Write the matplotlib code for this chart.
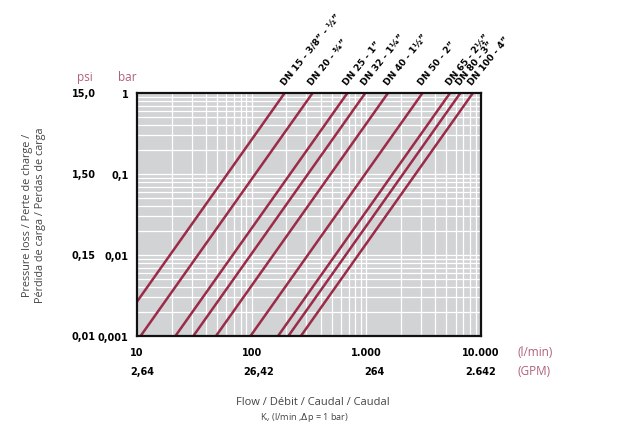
import numpy as np
import matplotlib
matplotlib.use("Agg")
import matplotlib.pyplot as plt
from matplotlib.transforms import blended_transform_factory

# ---- data ----
series_labels = ["DN 15 - 3/8\u201d - \u00bd\u201d", "DN 20 - \u00be\u201d", "DN 25 - 1\u201d",
                 "DN 32 - 1\u00bc\u201d", "DN 40 - 1\u00bd\u201d", "DN 50 - 2\u201d",
                 "DN 65 - 2\u00bd\u201d", "DN 80 - 3\u201d", "DN 100 - 4\u201d"]
kv_values = [194, 340, 684, 980, 1545, 3090, 5370, 6610, 8500]   # l/min at dp = 1 bar
x_ticks = [10, 100, 1000, 10000]
x_tick_labels = ["10", "100", "1.000", "10.000"]
gpm_labels = ["2,64", "26,42", "264", "2.642"]
y_ticks = [0.001, 0.01, 0.1, 1]
bar_labels = ["0,001", "0,01", "0,1", "1"]
psi_labels = ["0,01", "0,15", "1,50", "15,0"]

LINE = "#9b2b48"
MAUVE = "#b0607c"
BG = "#d2d3d5"
LIGHT = ["Open Sans", "DejaVu Sans"]
BOLD = ["DejaVu Sans"]
plt.rcParams['font.family'] = LIGHT

fig = plt.figure(figsize=(6.21, 4.27), dpi=100)
ax = fig.add_axes([137/621, 1-337/427, (481-137)/621, (337-94)/427])
ax.set_facecolor(BG)
ax.set_xscale("log")
ax.set_yscale("log")
ax.set_xlim(10, 10000)
ax.set_ylim(0.001, 1)
ax.set_axisbelow(True)
for s in ax.spines.values():
    s.set_linewidth(1.6)
    s.set_color("#111111")

q = np.logspace(1, 4, 200)
for kv, lab in zip(kv_values, series_labels):
    dp = (q / kv) ** 2
    ax.plot(q, dp, color=LINE, lw=1.8, solid_capstyle="butt", clip_on=True)
    ax.annotate(lab, xy=(kv, 1), xytext=(1, 7), textcoords="offset pixels",
                rotation=51, rotation_mode="anchor", ha="left", va="bottom",
                fontsize=6.6, fontweight="bold", family=BOLD, color="black",
                annotation_clip=False)

ax.tick_params(which="both", length=0)
ax.set_xticks(x_ticks)
ax.set_xticklabels(x_tick_labels, fontsize=7.0, fontweight="bold", family=BOLD)
ax.tick_params(axis="x", pad=8)
ax.set_yticks(y_ticks)
ax.set_yticklabels(bar_labels, fontsize=7.0, fontweight="bold", family=BOLD)
ax.tick_params(axis="y", pad=6)
ax.set_xticks([v * m for v in [10, 100, 1000] for m in range(2, 10)], minor=True)
ax.set_yticks([v * m for v in [0.001, 0.01, 0.1] for m in range(2, 10)], minor=True)
ax.tick_params(which="minor", length=0, labelbottom=False, labelleft=False)
ax.grid(which="both", color="white", lw=0.9)

# psi column
ty = blended_transform_factory(ax.transAxes, ax.transData)
for y, lab in zip(y_ticks, psi_labels):
    ax.text(-41/344, y, lab, transform=ty, ha="right", va="center",
            fontsize=7.0, fontweight="bold", family=BOLD)
ax.text(-52/344, 1.0 + 10/243, "psi", transform=ax.transAxes, ha="center", va="bottom",
        fontsize=8.5, color=MAUVE)
ax.text(-10/344, 1.0 + 10/243, "bar", transform=ax.transAxes, ha="center", va="bottom",
        fontsize=8.5, color=MAUVE)

# GPM row
tx = blended_transform_factory(ax.transData, ax.transAxes)
gpm_off = [5, 7, 8, 0]
for x, lab, off in zip(x_ticks, gpm_labels, gpm_off):
    ax.annotate(lab, xy=(x, 0), xycoords=tx, xytext=(off, -35), textcoords="offset pixels",
                ha="center", va="center", fontsize=7.0, fontweight="bold", family=BOLD,
                annotation_clip=False)

fig.text(518/621, 1-352/427, "(l/min)", ha="left", va="center", fontsize=8.5, color=MAUVE)
fig.text(518/621, 1-372/427, "(GPM)", ha="left", va="center", fontsize=8.5, color=MAUVE)

# axis titles
fig.text(313/621, 1-403/427, "Flow / D\u00e9bit / Caudal / Caudal", ha="center", va="center",
         fontsize=8.0, color="#444444")
fig.text(305/621, 1-418/427, r"K$_\mathregular{v}$ (l/min ,$\Delta$p = 1 bar)", ha="center",
         va="center", fontsize=6.6, color="#444444")
fig.text(34/621, 1-215/427, "Pressure loss / Perte de charge /\nP\u00e9rdida de carga / Perdas de carga",
         ha="center", va="center", rotation=90, fontsize=7.8, color="#444444",
         linespacing=1.2)

fig.savefig("out.png", dpi=100)
